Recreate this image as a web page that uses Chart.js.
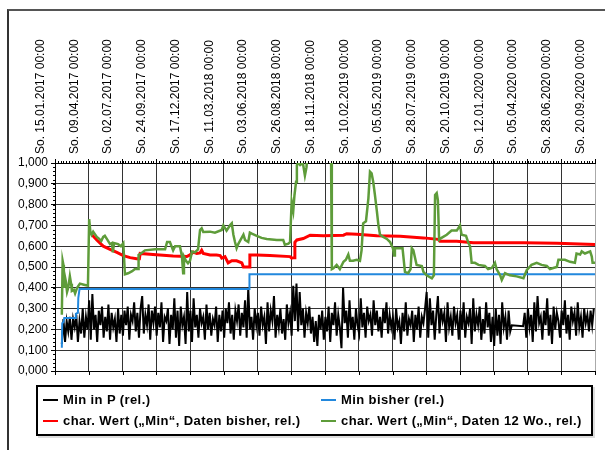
<!DOCTYPE html>
<html>
<head>
<meta charset="utf-8">
<script src="https://cdn.jsdelivr.net/npm/chart.js@4.4.1/dist/chart.umd.min.js"></script>
<style>
    body { margin: 0; background: #fff; }
    #wrap { position: relative; width: 605px; height: 450px; overflow: hidden; font-family: "Liberation Sans", Arial, sans-serif; }
    #frame { position: absolute; left: 7px; top: 9px; width: 700px; height: 600px; border-top: 2px solid #555; border-left: 2px solid #333; }
    #chart { position: absolute; left: 0; top: 0; }
    #legend { position: absolute; left: 36px; top: 385px; width: 553px; height: 47px; border: 2px solid #000; box-shadow: 2px 2px 0 #ddd; background: #fff; }
    .item { position: absolute; font-weight: bold; font-size: 13px; letter-spacing: 0.4px; line-height: 15px; white-space: nowrap; color: #000; }
    .sw { display: inline-block; width: 15px; height: 2px; vertical-align: middle; margin-right: 5px; position: relative; top: -1px; }
</style>
</head>
<body>
<div id="wrap">
    <div id="frame"></div>
    <canvas id="chart" width="605" height="450"></canvas>
    <div id="legend"></div>
</div>
<script>
// x values are days since So. 15.01.2017
const xMax = 1344;
const dateLabels = [
    'So. 15.01.2017 00:00', 'So. 09.04.2017 00:00', 'So. 02.07.2017 00:00', 'So. 24.09.2017 00:00',
    'So. 17.12.2017 00:00', 'So. 11.03.2018 00:00', 'So. 03.06.2018 00:00', 'So. 26.08.2018 00:00',
    'So. 18.11.2018 00:00', 'So. 10.02.2019 00:00', 'So. 05.05.2019 00:00', 'So. 28.07.2019 00:00',
    'So. 20.10.2019 00:00', 'So. 12.01.2020 00:00', 'So. 05.04.2020 00:00', 'So. 28.06.2020 00:00',
    'So. 20.09.2020 00:00'
];
const yLabels = ['0,000', '0,100', '0,200', '0,300', '0,400', '0,500', '0,600', '0,700', '0,800', '0,900', '1,000'];

const seriesNames = [
    'Min in P (rel.)',
    'Min bisher (rel.)',
    'char. Wert (\u201eMin\u201c, Daten bisher, rel.)',
    'char. Wert (\u201eMin\u201c, Daten 12 Wo., rel.)'
];

// Min in P: one value every 4 days from day 17 (null = no data)
const minPStart = 17;
const minPStep = 4;
const minPValues = [
    0.13, 0.25, 0.14, 0.24, 0.19, 0.26, 0.15, 0.25, 0.21, 0.27, 0.14, 0.24, 0.18, 0.30, 0.16, 0.26, 0.20,
    0.34, 0.15, 0.37, 0.20, 0.27, 0.14, 0.29, 0.22, 0.31, 0.16, 0.26, 0.19, 0.32, 0.15, 0.28, 0.21, 0.25, 0.14, 0.30, 0.18, 0.27,
    0.17, 0.29, 0.22, 0.31, 0.15, 0.27, 0.24, 0.33, 0.19, 0.28, 0.16, 0.30, 0.36, 0.18, 0.27, 0.22, 0.32, 0.15, 0.29, 0.23, 0.31,
    0.17, 0.28, 0.21, 0.33, 0.14, 0.26, 0.24, 0.30, 0.13, 0.27, 0.20, 0.35, 0.16, 0.29, 0.12, 0.31, 0.22, 0.26, 0.13, 0.38, 0.19,
    0.29, 0.14, 0.35, 0.21, 0.27, 0.16, 0.30, 0.23, 0.26, 0.15, 0.32, 0.20, 0.28, 0.17, 0.25, 0.22, 0.31, 0.14, 0.27, 0.19, 0.29,
    0.16, 0.30, 0.23, 0.33, 0.18, 0.27, 0.15, 0.29, 0.24, 0.32, 0.17, 0.28, 0.21, 0.34, 0.16, 0.40, 0.20, 0.26, 0.15, 0.30, 0.22,
    0.28, 0.17, 0.31, 0.22, 0.26, 0.13, 0.33, 0.19, 0.29, 0.24, 0.36, 0.16, 0.27, 0.21, 0.30, 0.18, 0.25, 0.15, 0.32, 0.23, 0.28,
    0.17, 0.41, 0.24, 0.42, 0.19, 0.38, 0.22, 0.30, 0.16, 0.28, 0.23, 0.31, 0.18, 0.26, 0.14, 0.24, 0.12, 0.27, 0.20, 0.29, 0.15,
    0.26, 0.19, 0.31, 0.14, 0.28, 0.22, 0.33, 0.17, 0.27, 0.21, 0.11, 0.40, 0.23, 0.29, 0.16, 0.34, 0.20, 0.26, 0.15, 0.30, 0.22,
    0.18, 0.35, 0.21, 0.28, 0.16, 0.31, 0.24, 0.27, 0.17, 0.34, 0.22, 0.29, 0.19, 0.26, 0.16, 0.30, 0.23, 0.33, 0.18, 0.27, 0.21,
    0.26, 0.15, 0.30, 0.21, 0.24, 0.13, 0.28, 0.19, 0.33, 0.17, 0.25, 0.22, 0.29, 0.14, 0.27, 0.20, 0.31, 0.16, 0.26, 0.23, 0.30,
    0.38, 0.16, 0.35, 0.22, 0.29, 0.15, 0.27, 0.36, 0.18, 0.30, 0.24, 0.28, 0.14, 0.33, 0.21, 0.26, 0.17, 0.31, 0.23, 0.27, 0.15,
    0.29, 0.20, 0.33, 0.16, 0.26, 0.23, 0.30, 0.13, 0.35, 0.19, 0.27, 0.22, 0.31, 0.15, 0.25, 0.18, 0.33, 0.21, 0.28, 0.14, 0.26,
    0.12, 0.30, 0.17, 0.27, 0.13, 0.33, 0.21, 0.26, 0.15, 0.29, 0.19, 0.22, null, null, null, null, null, null, 0.215, 0.28, 0.16,
    0.30, 0.21, 0.27, 0.14, 0.33, 0.19, 0.36, 0.23, 0.26, 0.15, 0.29, 0.22, 0.35, 0.17, 0.27, 0.13, 0.31, 0.20, 0.28, 0.24, 0.16,
    0.29, 0.22, 0.34, 0.18, 0.27, 0.15, 0.31, 0.24, 0.28, 0.17, 0.33, 0.21, 0.26, 0.16, 0.30, 0.23, 0.27, 0.19, 0.29, 0.22, 0.30
];

// Min bisher
const blueDays = [17, 18, 21, 23, 50, 52, 57, 58, 61, 483, 484, 1344];
const blueValues = [0.112, 0.23, 0.235, 0.255, 0.255, 0.275, 0.28, 0.35, 0.394, 0.394, 0.465, 0.465];

// char. Wert, Daten bisher
const redDays = [92, 104, 120, 137, 154, 170, 187, 203, 210, 212, 244, 294, 328, 336, 344, 353, 361, 365, 369, 386, 402,
    411, 415, 423, 431, 440, 452, 465, 469, 481, 484, 485, 502, 535, 585, 589, 595, 597, 602, 618, 635, 668, 718, 726, 751,
    801, 859, 917, 954, 958, 1000, 1041, 1166, 1249, 1344];
const redValues = [0.655, 0.63, 0.60, 0.585, 0.57, 0.555, 0.545, 0.54, 0.54, 0.565, 0.56, 0.553, 0.55, 0.558, 0.572, 0.565, 0.568, 0.58, 0.565, 0.558, 0.558,
    0.555, 0.543, 0.55, 0.52, 0.53, 0.53, 0.52, 0.50, 0.50, 0.50, 0.558, 0.558, 0.555, 0.55, 0.543, 0.545, 0.619, 0.63, 0.637, 0.653, 0.65, 0.653, 0.66, 0.657,
    0.65, 0.648, 0.64, 0.633, 0.624, 0.624, 0.617, 0.617, 0.614, 0.608];

// char. Wert, Daten 12 Wo.
const greenDays = [17, 19, 21, 22, 24, 27, 30, 33, 37, 40, 42, 47, 50, 55, 62, 72, 82, 85, 88, 91, 95, 104, 110, 115, 120, 124,
    129, 137, 142, 144, 147, 157, 164, 170, 174, 182, 192, 199, 207, 208, 217, 224, 249, 274, 279, 286, 290, 294, 299, 311,
    316, 319, 321, 326, 331, 336, 341, 348, 356, 361, 365, 369, 386, 398, 415, 419, 427, 436, 440, 444, 448, 452, 456, 469,
    473, 481, 485, 490, 502, 514, 527, 552, 568, 572, 581, 585, 589, 593, 596, 600, 602, 605, 610, 617, 622, 626, 628, 660,
    687, 689, 693, 701, 709, 718, 724, 730, 734, 742, 751, 759, 763, 767, 774, 780, 784, 788, 792, 796, 801, 805, 809, 817,
    826, 834, 841, 844, 846, 865, 871, 879, 885, 888, 892, 900, 913, 917, 925, 938, 943, 946, 950, 953, 956, 962, 975, 987,
    1000, 1008, 1012, 1023, 1029, 1033, 1037, 1045, 1054, 1070, 1078, 1087, 1095, 1099, 1108, 1112, 1120, 1132, 1149, 1166,
    1174, 1186, 1199, 1211, 1224, 1232, 1240, 1249, 1253, 1269, 1282, 1294, 1298, 1307, 1311, 1319, 1332, 1336, 1338, 1344];
const greenValues = [0.27, 0.53, 0.51, 0.40, 0.46, 0.43, 0.38, 0.40, 0.455, 0.42, 0.385, 0.39, 0.373, 0.40, 0.42, 0.415, 0.41, 0.73, 0.67, 0.655, 0.67, 0.645, 0.635, 0.625, 0.645, 0.65,
    0.635, 0.61, 0.615, 0.57, 0.615, 0.61, 0.60, 0.615, 0.465, 0.47, 0.48, 0.49, 0.49, 0.558, 0.57, 0.58, 0.585, 0.585, 0.62, 0.62, 0.60, 0.58, 0.60, 0.60,
    0.55, 0.47, 0.55, 0.53, 0.518, 0.53, 0.574, 0.57, 0.585, 0.678, 0.686, 0.668, 0.67, 0.665, 0.678, 0.70, 0.675, 0.702, 0.71, 0.655, 0.62, 0.59, 0.61, 0.655,
    0.63, 0.62, 0.665, 0.66, 0.65, 0.64, 0.635, 0.63, 0.63, 0.607, 0.612, 0.62, 0.814, 0.77, 0.845, 0.91, 0.99, 1.0, 0.99, 1.0, 0.94, 0.98, 1.05, 1.08,
    1.05, 0.49, 0.494, 0.51, 0.49, 0.525, 0.535, 0.56, 0.53, 0.53, 0.535, 0.53, 0.58, 0.71, 0.72, 0.83, 0.958, 0.95, 0.91, 0.85, 0.77, 0.70, 0.655, 0.645,
    0.635, 0.62, 0.59, 0.555, 0.59, 0.59, 0.477, 0.47, 0.49, 0.59, 0.58, 0.51, 0.505, 0.477, 0.46, 0.446, 0.46, 0.846, 0.855, 0.82, 0.63, 0.64, 0.655, 0.675,
    0.675, 0.70, 0.655, 0.65, 0.615, 0.60, 0.52, 0.52, 0.51, 0.505, 0.49, 0.495, 0.52, 0.49, 0.46, 0.438, 0.47, 0.46, 0.455, 0.446,
    0.485, 0.51, 0.52, 0.51, 0.505, 0.49, 0.495, 0.50, 0.535, 0.535, 0.525, 0.52, 0.565, 0.56, 0.575, 0.565, 0.575, 0.55, 0.52, 0.52];

const seriesColors = ['#000000', '#2288dd', '#ff0000', '#5e9c3a'];

const toPoints = (days, values) => values.map((v, i) => ({ x: days[i], y: v }));
const minPPoints = minPValues.map((v, i) => ({ x: minPStart + i * minPStep, y: v }));

// Small ticks on the axes (not provided by Chart.js)
const axisTicks = {
    id: 'axisTicks',
    afterDraw(chart) {
        const { ctx, chartArea: a, scales: { x, y } } = chart;
        ctx.save();
        ctx.strokeStyle = '#000';
        ctx.lineWidth = 1;
        ctx.beginPath();
        for (let d = 0; d <= xMax; d += 7) {
            const px = Math.round(x.getPixelForValue(d)) + 0.5;
            ctx.moveTo(px, a.top);
            ctx.lineTo(px, a.top - 2);
        }
        for (let i = 0; i <= 50; i++) {
            const py = Math.round(y.getPixelForValue(i * 0.02)) + 0.5;
            ctx.moveTo(a.left, py);
            ctx.lineTo(a.left - 2, py);
        }
        x.ticks.forEach(t => {
            const px = Math.round(x.getPixelForValue(t.value)) + 0.5;
            ctx.moveTo(px, a.bottom);
            ctx.lineTo(px, a.bottom + 4);
        });
        ctx.stroke();
        ctx.restore();
    }
};

const tickFont = { family: '"Liberation Sans", Arial, sans-serif', size: 12 };

new Chart(document.getElementById('chart').getContext('2d'), {
    type: 'line',
    data: {
        datasets: [
            { label: seriesNames[0], data: minPPoints, borderColor: seriesColors[0], borderWidth: 2, spanGaps: true, order: 3 },
            { label: seriesNames[1], data: toPoints(blueDays, blueValues), borderColor: seriesColors[1], borderWidth: 2, order: 2 },
            { label: seriesNames[2], data: toPoints(redDays, redValues), borderColor: seriesColors[2], borderWidth: 3, order: 1 },
            { label: seriesNames[3], data: toPoints(greenDays, greenValues), borderColor: seriesColors[3], borderWidth: 2.5, order: 0 }
        ]
    },
    options: {
        responsive: false,
        animation: false,
        datasets: { line: { pointRadius: 0, tension: 0, clip: 0, fill: false } },
        layout: { padding: { left: 5, right: 10, top: 13, bottom: 79 } },
        plugins: { legend: { display: false }, tooltip: { enabled: false } },
        scales: {
            x: {
                type: 'linear',
                position: 'top',
                min: 0,
                max: xMax,
                afterFit: s => { s.height = 150; },
                ticks: {
                    stepSize: 84,
                    autoSkip: false,
                    maxRotation: 90,
                    minRotation: 90,
                    padding: 5,
                    color: '#000',
                    font: tickFont,
                    callback: (v, i) => dateLabels[i]
                },
                grid: {
                    color: c => (c.tick && c.tick.value === xMax ? '#aaaaaa' : '#333333'),
                    tickColor: '#000',
                    tickLength: 4
                },
                border: { display: true, color: '#000', width: 1 }
            },
            y: {
                min: 0,
                max: 1,
                afterFit: s => { s.width = 50; },
                ticks: {
                    stepSize: 0.1,
                    padding: 3,
                    color: '#000',
                    font: tickFont,
                    callback: (v, i) => yLabels[i]
                },
                grid: {
                    color: c => (c.tick && c.tick.value === 0 ? '#000' : '#333333'),
                    tickColor: '#000',
                    tickLength: 4
                },
                border: { display: true, color: '#000', width: 1 }
            }
        }
    },
    plugins: [axisTicks]
});

// Legend (two columns, like the original)
const legend = document.getElementById('legend');
const legendPos = [[5, 5], [283, 5], [5, 26], [283, 26]];
seriesNames.forEach((name, i) => {
    const div = document.createElement('div');
    div.className = 'item';
    div.style.left = legendPos[i][0] + 'px';
    div.style.top = legendPos[i][1] + 'px';
    div.innerHTML = '<span class="sw" style="background:' + seriesColors[i] + '"></span>';
    div.appendChild(document.createTextNode(name));
    legend.appendChild(div);
});
</script>
</body>
</html>
